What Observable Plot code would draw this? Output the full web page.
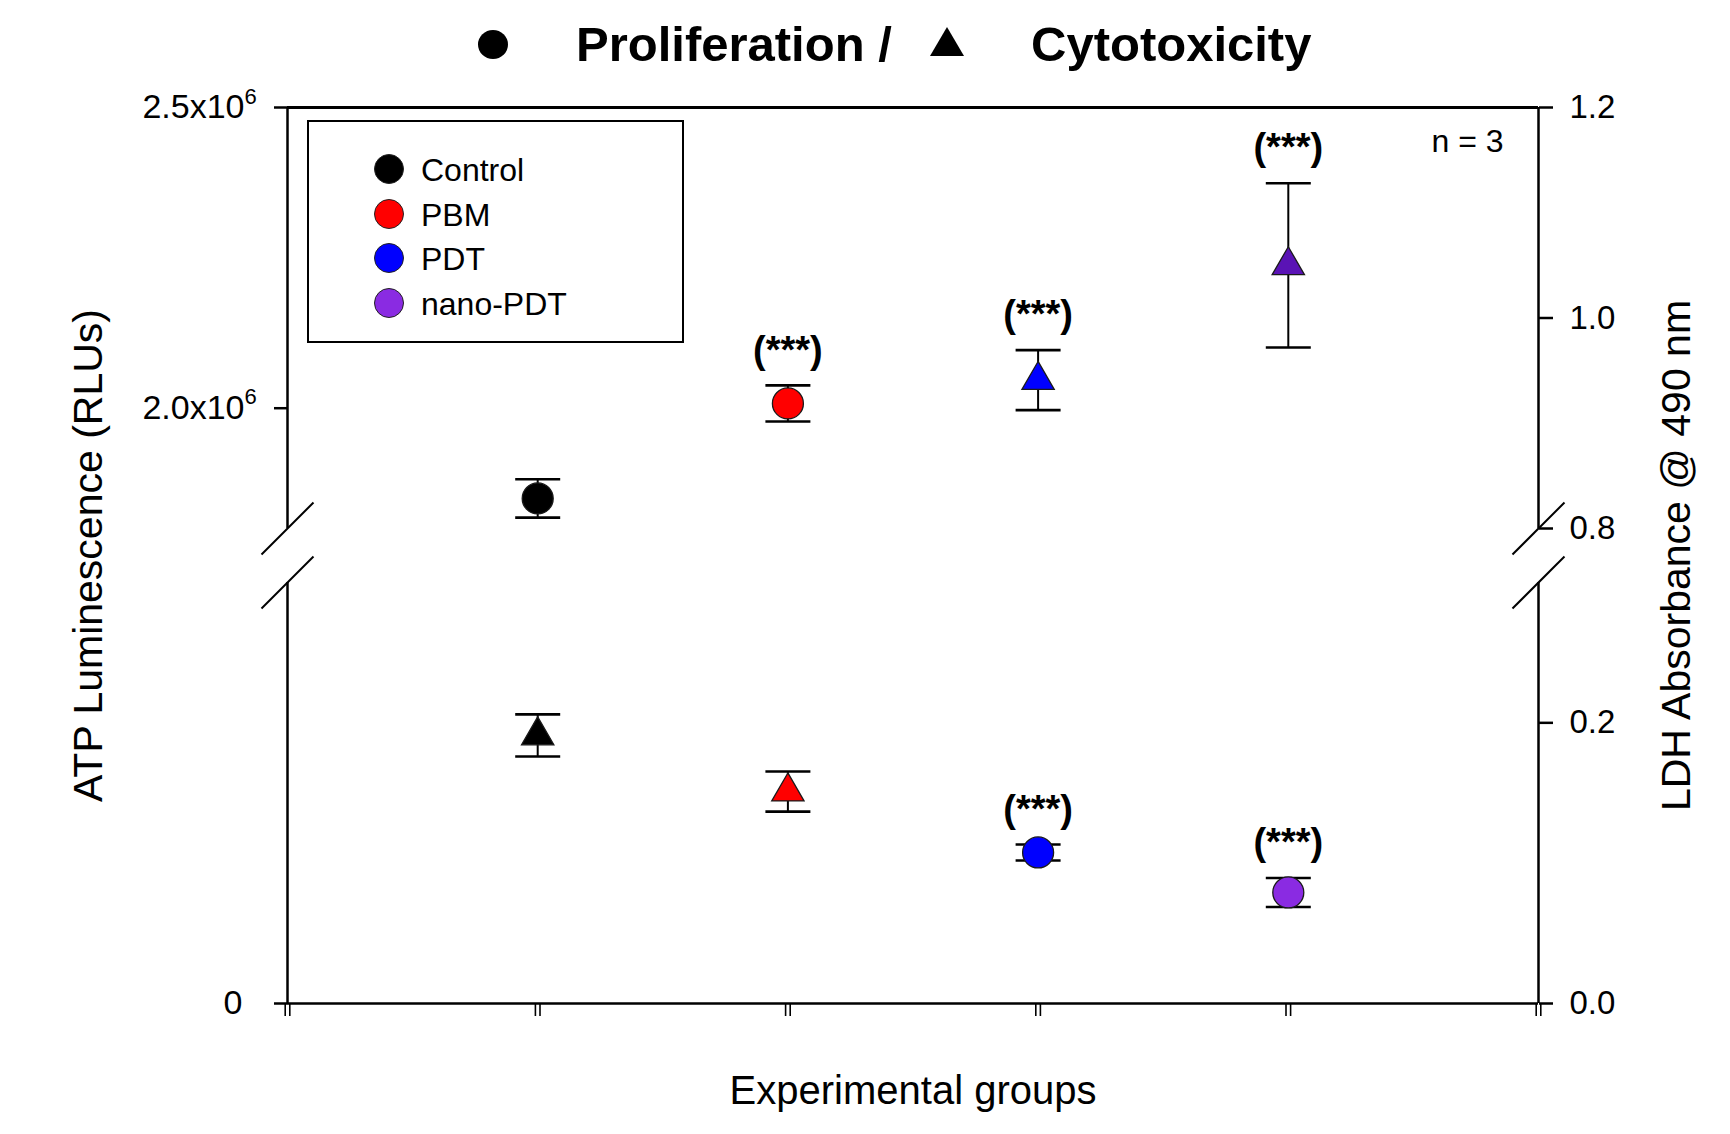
<!DOCTYPE html>
<html>
<head>
<meta charset="utf-8">
<script src="https://cdn.jsdelivr.net/npm/d3@7"></script>
<script src="https://cdn.jsdelivr.net/npm/@observablehq/plot@0.6"></script>
<style>
  body { margin: 0; background: #fff; font-family: "Liberation Sans", Arial, sans-serif; color: #000; }
  #page { position: relative; width: 1730px; height: 1134px; overflow: hidden; background: #fff; }
  #title { position: relative; height: 80px; }
  .abs { position: absolute; white-space: nowrap; }
  .ttl { font-weight: bold; font-size: 49px; line-height: 49px; }
  #legend { position: absolute; left: 307px; top: 120px; width: 377px; height: 223px; box-sizing: border-box; border: 2px solid #000; background: #fff; }
  .lgtext { font-size: 32px; line-height: 32px; }
  .lgdot { border-radius: 50%; box-sizing: border-box; border: 1.5px solid #222; }
</style>
</head>
<body>
<div id="page">
  <div id="title">
    <div class="abs" style="left:478px;top:30px;width:30px;height:29px;border-radius:50%;background:#000;"></div>
    <div class="abs ttl" style="left:576px;top:20px;">Proliferation /</div>
    <div class="abs" style="left:930px;top:27px;width:0;height:0;border-left:17px solid transparent;border-right:17px solid transparent;border-bottom:29px solid #000;"></div>
    <div class="abs ttl" style="left:1031px;top:20px;">Cytotoxicity</div>
  </div>
  <div id="chart"></div>
  <div id="legend"></div>
</div>
<script>
// ---- data ----
const groups = ["Control", "PBM", "PDT", "nano-PDT"];
const groupX = [1, 2, 3, 4];
// Proliferation: ATP luminescence (RLUs), left axis (circles)
const atpMean = [1.850e6, 2.008e6, 0.1435e6, 0.1055e6];
const atpErr  = [0.032e6, 0.030e6, 0.0076e6, 0.0138e6];
const atpSig  = [null, "(***)", "(***)", "(***)"];
// Cytotoxicity: LDH absorbance @ 490 nm, right axis (triangles)
const ldhMean = [0.191, 0.151, 0.941, 1.050];
const ldhErr  = [0.015, 0.0143, 0.0285, 0.078];
const ldhSig  = [null, null, "(***)", "(***)"];
const circleFill   = ["#000000", "#ff0000", "#0000ff", "#8a2be2"];
const triangleFill = ["#000000", "#ff0000", "#0000ff", "#5a13b5"];
// axes
const xDomain = [0, 5];
const xTicks = [0, 1, 2, 3, 4, 5];
const atpSegments = [[0, 0.4e6], [1.8e6, 2.5e6]];
const ldhSegments = [[0, 0.3], [0.8, 1.2]];
const atpTicks = [0, 2.0e6, 2.5e6];
const atpTickLabels = ["0", "2.0x10", "2.5x10"];
const atpTickExponents = [null, "6", "6"];
const ldhTicks = [0.0, 0.2, 0.8, 1.0, 1.2];
const ldhTickLabels = ["0.0", "0.2", "0.8", "1.0", "1.2"];
const nLabel = "n = 3";
const xLabel = "Experimental groups";
const yLeftLabel = "ATP Luminescence (RLUs)";
const yRightLabel = "LDH Absorbance @ 490 nm";

// ---- layout ----
const W = 1730, H = 1054;
const mT = 27, mB = 131, mL = 287, mR = 192;
const gap = 54;
const seg = (H - mT - mB - gap) / 2;
const yRange = [H - mB, H - mB - seg, mT + seg, mT];

// map right-axis (LDH) values into the left-axis (ATP) scale units
const ldhToAtp = d3.scaleLinear().domain(ldhSegments.flat()).range(atpSegments.flat());

const atpRows = groups.map((g, i) => ({
  group: g, x: groupX[i], y: atpMean[i],
  lo: atpMean[i] - atpErr[i], hi: atpMean[i] + atpErr[i],
  fill: circleFill[i], sig: atpSig[i]
}));
const ldhRows = groups.map((g, i) => ({
  group: g, x: groupX[i], y: ldhToAtp(ldhMean[i]),
  lo: ldhToAtp(ldhMean[i] - ldhErr[i]), hi: ldhToAtp(ldhMean[i] + ldhErr[i]),
  fill: triangleFill[i], sig: ldhSig[i]
}));
const allRows = atpRows.concat(ldhRows);

const axisSegs = [];
[xDomain[0], xDomain[1]].forEach(x => atpSegments.forEach(s => axisSegs.push({x, y1: s[0], y2: s[1]})));
const breakMarks = [];
[xDomain[0], xDomain[1]].forEach(x => [atpSegments[0][1], atpSegments[1][0]].forEach(y => breakMarks.push({x, y})));

const capSymbol = { draw(ctx) { ctx.moveTo(-22.5, 0); ctx.lineTo(22.5, 0); } };
const slashSymbol = { draw(ctx) { ctx.moveTo(-26, 26); ctx.lineTo(26, -26); } };

const leftFmt = new Map(atpTicks.map((v, i) => [v, atpTickLabels[i]]));
const expRows = atpTicks.map((v, i) => ({ y: v, e: atpTickExponents[i] })).filter(d => d.e);
const rightTickPos = ldhTicks.map(v => ldhToAtp(v));
const rightFmt = new Map(rightTickPos.map((v, i) => [v, ldhTickLabels[i]]));

const chart = Plot.plot({
  width: W, height: H,
  marginTop: mT, marginBottom: mB, marginLeft: mL, marginRight: mR,
  style: { fontFamily: "'Liberation Sans', Arial, sans-serif", background: "white", color: "black", overflow: "visible" },
  x: { type: "linear", domain: xDomain, axis: null },
  y: { type: "linear", domain: atpSegments.flat(), range: yRange, axis: null },
  color: { type: "identity" },
  marks: [
    // frame lines
    Plot.ruleY([atpSegments[1][1]], { stroke: "black", strokeWidth: 2.8 }),
    Plot.ruleY([0], { stroke: "black", strokeWidth: 2.5 }),
    Plot.ruleX(axisSegs, { x: "x", y1: "y1", y2: "y2", stroke: "black", strokeWidth: 2.5 }),
    Plot.dot(breakMarks, { x: "x", y: "y", symbol: slashSymbol, fill: "none", stroke: "black", strokeWidth: 2 }),
    // x ticks (double)
    Plot.axisX({ ticks: xTicks, tickFormat: () => "", tickSize: 13, strokeWidth: 1.6, dx: -2.3, anchor: "bottom", label: null }),
    Plot.axisX({ ticks: xTicks, tickFormat: () => "", tickSize: 13, strokeWidth: 1.6, dx: 2.3, anchor: "bottom", label: null }),
    // left axis
    Plot.axisY({ ticks: atpTicks.slice(1), tickFormat: d => leftFmt.get(d), anchor: "left", tickSize: 13, tickPadding: 30, fontSize: 34, strokeWidth: 2.5, label: null }),
    Plot.axisY({ ticks: atpTicks.slice(0, 1), tickFormat: d => leftFmt.get(d), anchor: "left", tickSize: 13, tickPadding: 32, fontSize: 34, strokeWidth: 2.5, label: null }),
    Plot.text(expRows, { frameAnchor: "left", y: "y", text: "e", textAnchor: "start", dx: -43, dy: -11, fontSize: 22, fill: "black" }),
    // right axis
    Plot.axisY({ ticks: rightTickPos, tickFormat: d => rightFmt.get(d), anchor: "right", tickSize: 14, tickPadding: 17, fontSize: 33, strokeWidth: 2.5, label: null }),
    // error bars
    Plot.ruleX(allRows, { x: "x", y1: "lo", y2: "hi", stroke: "black", strokeWidth: 2 }),
    Plot.dot(allRows, { x: "x", y: "hi", symbol: capSymbol, fill: "none", stroke: "black", strokeWidth: 2.6 }),
    Plot.dot(allRows, { x: "x", y: "lo", symbol: capSymbol, fill: "none", stroke: "black", strokeWidth: 2.6 }),
    // symbols
    Plot.dot(atpRows, { x: "x", y: "y", symbol: "circle", r: 15.5, fill: "fill", stroke: "#1a1a1a", strokeWidth: 1.3 }),
    Plot.dot(ldhRows, { x: "x", y: "y", symbol: "triangle", r: 12, fill: "fill", stroke: "#1a1a1a", strokeWidth: 1.3 }),
    // significance
    Plot.text(allRows.filter(d => d.sig), { x: "x", y: "hi", text: "sig", dy: -35, fontSize: 38, fontWeight: "bold", fill: "black" }),
    // annotations and axis titles
    Plot.text([nLabel], { frameAnchor: "top-right", textAnchor: "end", lineAnchor: "bottom", dx: -35, dy: 44, fontSize: 32, fill: "black" }),
    Plot.text([xLabel], { frameAnchor: "bottom", textAnchor: "middle", lineAnchor: "bottom", dy: 100, fontSize: 40, fill: "black" }),
    Plot.text([yLeftLabel], { frameAnchor: "left", textAnchor: "middle", lineAnchor: "bottom", rotate: -90, dx: -186, fontSize: 41, fill: "black" }),
    Plot.text([yRightLabel], { frameAnchor: "right", textAnchor: "middle", lineAnchor: "bottom", rotate: -90, dx: 151, fontSize: 41, fill: "black" })
  ]
});
document.getElementById("chart").appendChild(chart);

// ---- legend ----
const legend = document.getElementById("legend");
groups.forEach((g, i) => {
  const cy = 47 + i * 44.7;
  const dot = document.createElement("div");
  dot.className = "abs lgdot";
  dot.style.cssText = `left:${80 - 15}px;top:${cy - 15}px;width:30px;height:30px;background:${circleFill[i]};`;
  legend.appendChild(dot);
  const t = document.createElement("div");
  t.className = "abs lgtext";
  t.style.cssText = `left:112px;top:${cy - 15}px;`;
  t.textContent = g;
  legend.appendChild(t);
});
</script>
</body>
</html>
